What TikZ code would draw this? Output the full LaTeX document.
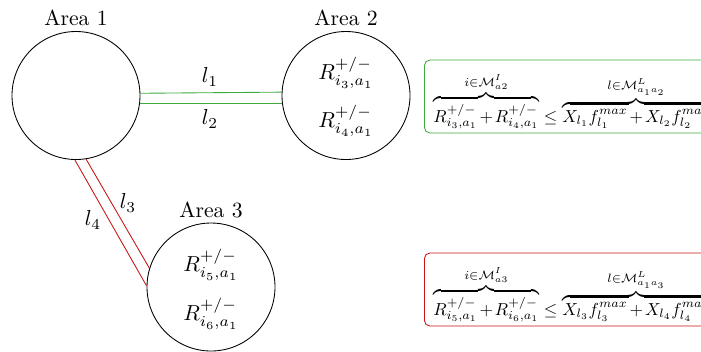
\documentclass[tikz,border=0pt]{standalone}
\usepackage{amsmath,amssymb,graphicx}
\definecolor{lgreen}{RGB}{60,170,60}
\definecolor{lred}{RGB}{200,20,20}
\newcommand{\eqlower}[1]{\raisebox{-2.2pt}[\height][\depth]{\scalebox{0.8}{#1}}}
\begin{document}
\begin{tikzpicture}[x=0.4608pt,y=-0.4608pt,
  area/.style={circle,draw,minimum size=128*0.4608pt,inner sep=0pt},
  gline/.style={draw=lgreen},
  rline/.style={draw=lred},
  eqbox/.style={draw=#1,rounded corners=2.5pt,minimum height=73*0.4608pt,inner xsep=9*0.4608pt,anchor=west}]
\useasboundingbox (0,0) rectangle (701,351);
\node[area] (c1) at (76,95.5) {};
\node[area] (c2) at (346,95.5) {};
\node[area] (c3) at (211,287) {};
\node (t1) at (76,18) {Area 1};
\node (t2) at (346,18) {Area 2};
\node (t3) at (211,210) {Area 3};
\node (r3) at (346,73) {$R^{+/-}_{i_3,a_1}$};
\node (r4) at (346,121) {$R^{+/-}_{i_4,a_1}$};
\node (r5) at (211,265) {$R^{+/-}_{i_5,a_1}$};
\node (r6) at (211,314) {$R^{+/-}_{i_6,a_1}$};
\draw[gline] (c1.2.2) -- (c2.177.8);
\draw[gline] (c1.-7.6) -- (c2.187.6);
\draw[rline] (c1.279.7) -- (c3.163.8);
\draw[rline] (c1.269.1) -- (c3.179.1);
\node (l1) at (210,77) {$l_1$};
\node (l2) at (210,119) {$l_2$};
\node (l3) at (128,203) {$l_3$};
\node (l4) at (93,220) {$l_4$};
\node[eqbox=lgreen] (b1) at (424,96.5) {\eqlower{$\medmuskip=2mu\overbrace{R^{+/-}_{i_3,a_1}+R^{+/-}_{i_4,a_1}}^{i\in\mathcal{M}^I_{a2}}\leq\overbrace{X_{l_1}f^{max}_{l_1}+X_{l_2}f^{max}_{l_2}}^{l\in\mathcal{M}^L_{a_1a_2}}$}};
\node[eqbox=lred] (b2) at (424,289.5) {\eqlower{$\medmuskip=2mu\overbrace{R^{+/-}_{i_5,a_1}+R^{+/-}_{i_6,a_1}}^{i\in\mathcal{M}^I_{a3}}\leq\overbrace{X_{l_3}f^{max}_{l_3}+X_{l_4}f^{max}_{l_4}}^{l\in\mathcal{M}^L_{a_1a_3}}$}};
\end{tikzpicture}
\end{document}
